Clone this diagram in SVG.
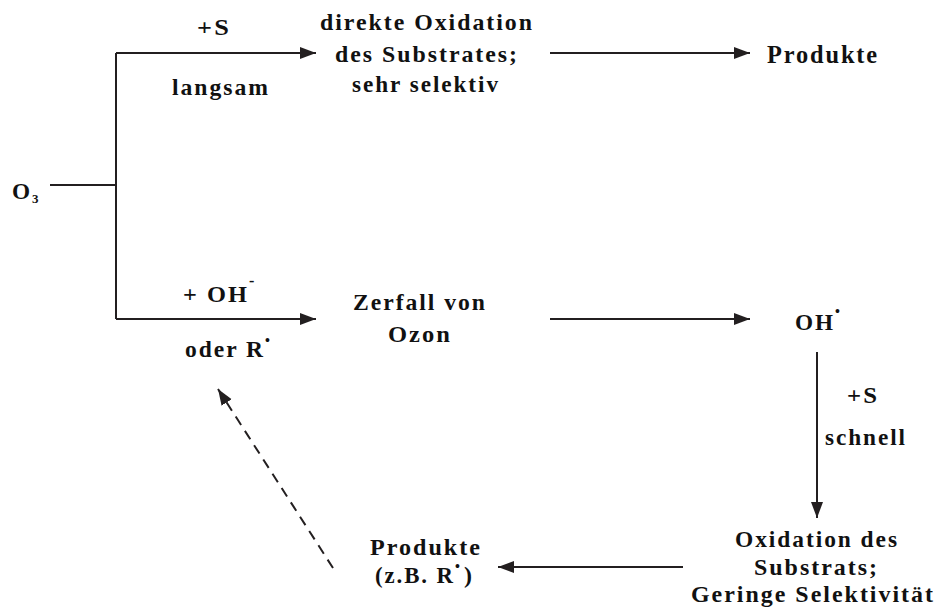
<svg xmlns="http://www.w3.org/2000/svg" width="940" height="612" viewBox="0 0 940 612">
<defs>
<style>
text{font-family:'Liberation Serif','DejaVu Serif','Times New Roman',serif;font-weight:700;fill:#111}
.t{font-size:24px;letter-spacing:2px}
.ln{stroke:#231f20;stroke-width:2;fill:none}
.ar{marker-end:url(#ah)}
.da{stroke-dasharray:10,7}
</style>
<marker id="ah" markerUnits="userSpaceOnUse" markerWidth="18" markerHeight="14" refX="16" refY="6" orient="auto">
<path d="M0,0 L16,6 L0,12 z" fill="#231f20"/>
</marker>
</defs>
<rect width="940" height="612" fill="#fff"/>

<g id="connectors">
<polyline class="ln" points="50,185 116,185"/>
<polyline class="ln" points="116,53 116,319"/>
<line class="ln ar" x1="116" y1="53" x2="316" y2="53"/>
<line class="ln ar" x1="116" y1="319" x2="316" y2="319"/>
<line class="ln ar" x1="550" y1="53" x2="750" y2="53"/>
<line class="ln ar" x1="550" y1="319" x2="750" y2="319"/>
<line class="ln ar" x1="817" y1="352" x2="817" y2="518"/>
<line class="ln ar" x1="683" y1="567" x2="498" y2="567"/>
<line class="ln ar da" x1="333" y1="568" x2="218" y2="389"/>
</g>

<g id="edge-labels">
<text class="t" x="197" y="35" textLength="34" lengthAdjust="spacingAndGlyphs">+S</text>
<text class="t" x="172" y="95" textLength="98" lengthAdjust="spacingAndGlyphs">langsam</text>
<text class="t" x="183" y="302"><tspan textLength="66" lengthAdjust="spacingAndGlyphs">+ OH</tspan><tspan font-size="16" dy="-16">-</tspan></text>
<text class="t" x="185" y="357"><tspan textLength="80" lengthAdjust="spacingAndGlyphs">oder R</tspan><tspan font-size="14" dy="-12">•</tspan></text>
<text class="t" x="847" y="403" textLength="32" lengthAdjust="spacingAndGlyphs">+S</text>
<text class="t" x="825" y="445" textLength="82" lengthAdjust="spacingAndGlyphs">schnell</text>
</g>

<g id="o3">
<text class="t" x="12" y="199"><tspan textLength="20" lengthAdjust="spacingAndGlyphs">O</tspan><tspan font-size="13" dy="4">3</tspan></text>
</g>

<g id="direkte-oxidation">
<text class="t" x="320" y="30" textLength="214" lengthAdjust="spacingAndGlyphs">direkte Oxidation</text>
<text class="t" x="335" y="62" textLength="184" lengthAdjust="spacingAndGlyphs">des Substrates;</text>
<text class="t" x="352" y="92" textLength="148" lengthAdjust="spacingAndGlyphs">sehr selektiv</text>
</g>

<g id="produkte-oben">
<text class="t" x="767" y="63" textLength="112" lengthAdjust="spacingAndGlyphs" style="font-size:26px">Produkte</text>
</g>

<g id="zerfall">
<text class="t" x="353" y="310" textLength="134" lengthAdjust="spacingAndGlyphs">Zerfall von</text>
<text class="t" x="388" y="342" textLength="64" lengthAdjust="spacingAndGlyphs">Ozon</text>
</g>

<g id="oh-radikal">
<text class="t" x="795" y="330"><tspan textLength="40" lengthAdjust="spacingAndGlyphs">OH</tspan><tspan font-size="14" dy="-14">•</tspan></text>
</g>

<g id="oxidation-substrat">
<text class="t" x="735" y="547" textLength="164" lengthAdjust="spacingAndGlyphs">Oxidation des</text>
<text class="t" x="754" y="575" textLength="125" lengthAdjust="spacingAndGlyphs">Substrats;</text>
<text class="t" x="691" y="602" textLength="244" lengthAdjust="spacingAndGlyphs">Geringe Selektivität</text>
</g>

<g id="produkte-unten">
<text class="t" x="370" y="555" textLength="112" lengthAdjust="spacingAndGlyphs">Produkte</text>
<text class="t" x="375" y="583"><tspan textLength="80" lengthAdjust="spacingAndGlyphs">(z.B. R</tspan><tspan font-size="14" dy="-12">•</tspan><tspan dx="2" dy="12">)</tspan></text>
</g>
</svg>
